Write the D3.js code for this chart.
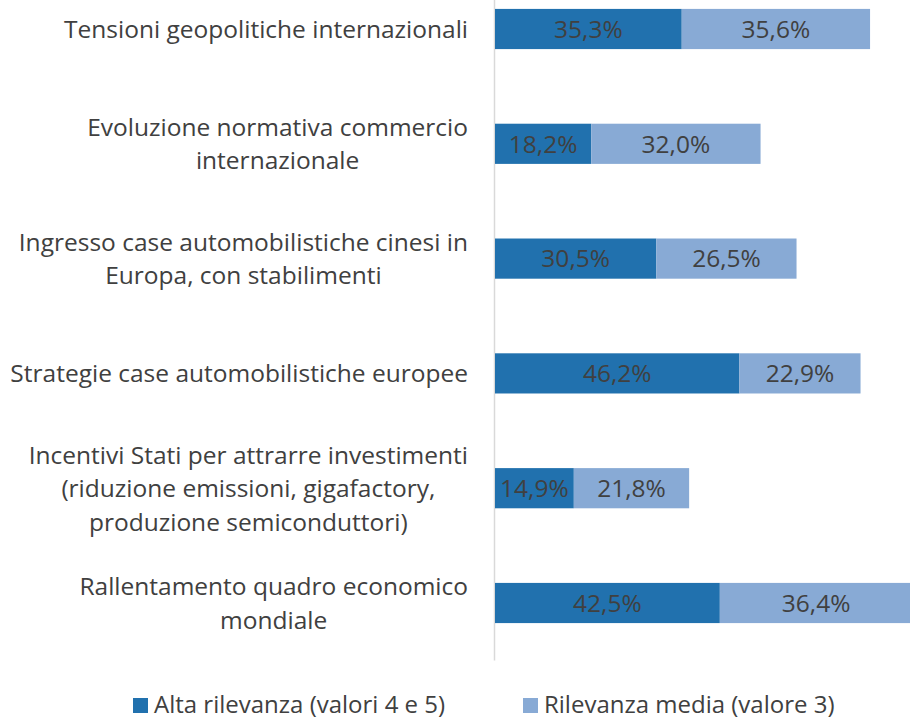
<!DOCTYPE html>
<html>
<head>
<meta charset="utf-8">
<script src="https://cdn.jsdelivr.net/npm/d3@7"></script>
<style>
  html, body { margin: 0; padding: 0; background: #fff; }
  svg { display: block; font-family: "Open Sans", "Noto Sans", sans-serif; }
  .cat { fill: #404040; font-size: 24.5px; }
  .val { fill: #404040; font-size: 24.5px; }
  .leg { fill: #404040; font-size: 24px; }
</style>
</head>
<body>
<svg id="chart" width="910" height="720"></svg>
<script>
/* ── Data ─────────────────────────────────────────────────────────────────── */

const categories = [
  ["Tensioni geopolitiche internazionali"],
  ["Evoluzione normativa commercio", "internazionale"],
  ["Ingresso case automobilistiche cinesi in", "Europa, con stabilimenti"],
  ["Strategie case automobilistiche europee"],
  ["Incentivi Stati per attrarre investimenti", "(riduzione emissioni, gigafactory,", "produzione semiconduttori)"],
  ["Rallentamento quadro economico", "mondiale"],
];

const alta = [35.3, 18.2, 30.5, 46.2, 14.9, 42.5];
const media = [35.6, 32.0, 26.5, 22.9, 21.8, 36.4];

const seriesNames = ["Alta rilevanza (valori 4 e 5)", "Rilevanza media (valore 3)"];
const COLORS = ["#2171ae", "#88aad5"];

/* ── Layout ───────────────────────────────────────────────────────────────── */

const svg = d3.select("#chart");
const x0 = 495;
const labelRight = 468;

const y = d3.scaleBand()
  .domain(d3.range(categories.length))
  .range([-28.4, 660.4])
  .paddingInner(0.65)
  .paddingOuter(0.325);

const x = d3.scaleLinear().domain([0, 80]).range([x0, x0 + 80 * 5.29]);

const fmt = (v) => v.toFixed(1).replace(".", ",") + "%";

// vertical axis line
svg.append("line")
  .attr("x1", 494.5).attr("x2", 494.5)
  .attr("y1", 0).attr("y2", y.range()[1])
  .attr("stroke", "#d9d9d9").attr("stroke-width", 1.5);

const stacked = categories.map((_, i) => ({
  i,
  segs: [
    { s: 0, a: 0, b: alta[i], v: alta[i] },
    { s: 1, a: alta[i], b: alta[i] + media[i], v: media[i] },
  ],
}));

const rows = svg.selectAll("g.row")
  .data(stacked)
  .join("g")
  .attr("class", "row")
  .attr("transform", (d) => `translate(0,${y(d.i)})`);

rows.selectAll("rect")
  .data((d) => d.segs)
  .join("rect")
  .attr("x", (d) => x(d.a))
  .attr("width", (d) => x(d.b) - x(d.a))
  .attr("y", 0)
  .attr("height", y.bandwidth())
  .attr("fill", (d) => COLORS[d.s]);

rows.selectAll("text.val")
  .data((d) => d.segs)
  .join("text")
  .attr("class", "val")
  .attr("text-anchor", "middle")
  .attr("x", (d) => (x(d.a) + x(d.b)) / 2)
  .attr("y", y.bandwidth() / 2)
  .attr("dy", "0.36em")
  .text((d) => fmt(d.v));

/* ── Category labels (centred lines, block right-aligned) ─────────────────── */

const lineH = 33.5;
categories.forEach((lines, i) => {
  const cy = y(i) + y.bandwidth() / 2;
  const t = svg.append("text").attr("class", "cat").attr("text-anchor", "middle");
  lines.forEach((ln, j) => {
    t.append("tspan")
      .attr("x", 0)
      .attr("y", cy + (j - (lines.length - 1) / 2) * lineH)
      .attr("dy", "0.36em")
      .text(ln);
  });
  const w = t.node().getBBox().width;
  t.attr("transform", `translate(${labelRight - w / 2},0)`);
});

/* ── Legend ───────────────────────────────────────────────────────────────── */

const legX = [133, 523];
seriesNames.forEach((name, i) => {
  svg.append("rect")
    .attr("x", legX[i]).attr("y", 698)
    .attr("width", 15).attr("height", 15)
    .attr("fill", COLORS[i]);
  svg.append("text")
    .attr("class", "leg")
    .attr("x", legX[i] + 21).attr("y", 704)
    .attr("dy", "0.36em")
    .text(name);
});
</script>
</body>
</html>
